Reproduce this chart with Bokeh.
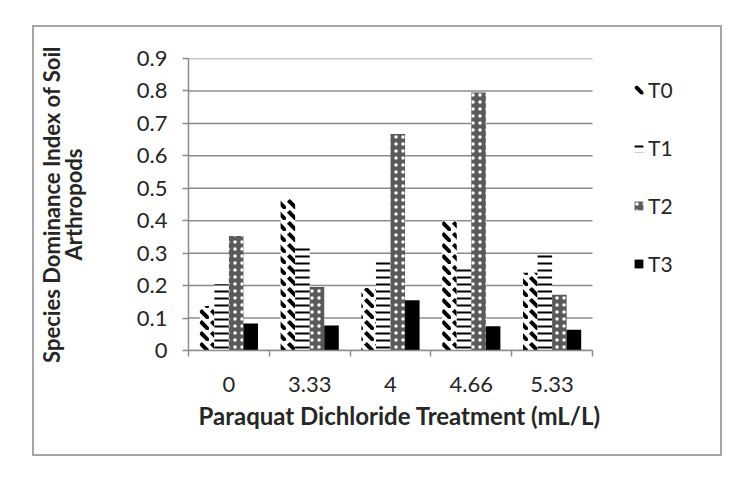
from bokeh.plotting import figure
from bokeh.models import Range1d, FixedTicker, Legend, LegendItem, ColumnDataSource, Title
from bokeh.transform import dodge
from bokeh.embed import file_html
from bokeh.resources import INLINE

# Paraquat dichloride doses (mL/L)
doses = ["0", "3.33", "4", "4.66", "5.33"]

# Species dominance index of soil arthropods per sampling time
t0 = [0.137, 0.467, 0.193, 0.400, 0.240]
t1 = [0.204, 0.320, 0.276, 0.252, 0.296]
t2 = [0.353, 0.196, 0.667, 0.795, 0.172]
t3 = [0.083, 0.077, 0.155, 0.075, 0.064]

series = ["T0", "T1", "T2", "T3"]
y_ticks = [0.0, 0.1, 0.2, 0.3, 0.4, 0.5, 0.6, 0.7, 0.8, 0.9]

FONT = "Lato"
TEXT = "#262626"
GRID = "#8c8c8c"

n = len(doses)
# each dose group occupies one unit on the x scale, centred at i + 0.5
centres = [i + 0.5 for i in range(n)]
source = ColumnDataSource(dict(centre=centres, T0=t0, T1=t1, T2=t2, T3=t3))

# the frame is widened to the right so the legend can sit inside it
bars_px, legend_px = 404, 130
x_end = n * (bars_px + legend_px) / bars_px

p = figure(width=737, height=478,
           x_range=Range1d(0, x_end), y_range=Range1d(0, 0.9),
           output_backend="svg", toolbar_location=None,
           min_border_left=188, min_border_right=737 - 188 - bars_px - legend_px,
           min_border_top=58, min_border_bottom=128)
p.outline_line_color = None
p.background_fill_color = "white"
p.border_fill_color = "white"

# grey frame around the whole chart area
p.stylesheets = [
    ":host { position: relative; }"
    ":host::after { content: ''; position: absolute; left: 32px; top: 25px;"
    " width: 686px; height: 427px; border: 2px solid #a6a6a6; pointer-events: none; }"
]

# horizontal gridlines, limited to the bar area
p.xgrid.visible = False
p.ygrid.visible = False
p.segment(x0=0, x1=n, y0=y_ticks, y1=y_ticks, line_color=GRID, line_width=1.5)

# bars, one dodge offset per series
bar_w = 0.18
offsets = [-0.27, -0.09, 0.09, 0.27]
styles = [
    dict(fill_color="white", hatch_pattern="left_diagonal_dash", hatch_color="black",
         hatch_weight=4, hatch_scale=11),
    dict(fill_color="white", hatch_pattern="horizontal_line", hatch_color="black",
         hatch_weight=2, hatch_scale=7),
    dict(fill_color="#5a5a5a", hatch_pattern="dot", hatch_color="white",
         hatch_weight=2, hatch_scale=7),
    dict(fill_color="black"),
]
renderers = []
for name, off, st in zip(series, offsets, styles):
    r = p.vbar(x=dodge("centre", off), top=name, width=bar_w,
               source=source, line_color=None, **st)
    renderers.append(r)

# y axis
p.yaxis.ticker = FixedTicker(ticks=y_ticks)
p.yaxis.major_label_overrides = {0: "0"}
p.yaxis.axis_line_color = GRID
p.yaxis.axis_line_width = 1.5
p.yaxis.major_tick_line_color = GRID
p.yaxis.major_tick_line_width = 1.5
p.yaxis.major_tick_out = 6
p.yaxis.major_tick_in = 0
p.yaxis.minor_tick_line_color = None
p.yaxis.major_label_standoff = 15
p.yaxis.major_label_text_font = FONT
p.yaxis.major_label_text_font_size = "22px"
p.yaxis.major_label_text_color = TEXT
p.yaxis.axis_label = "Species Dominance Index of Soil\nArthropods"
p.yaxis.axis_label_text_font = FONT
p.yaxis.axis_label_text_font_style = "bold"
p.yaxis.axis_label_text_font_size = "22px"
p.yaxis.axis_label_text_line_height = 0.82
p.yaxis.axis_label_text_color = TEXT
p.yaxis.axis_label_standoff = 47

# x axis: dose labels at group centres, tick marks between groups
xaxis = p.xaxis[0]
xaxis.bounds = (0, n)
xaxis.ticker = FixedTicker(ticks=centres, minor_ticks=list(range(n + 1)))
xaxis.major_label_overrides = {c: d for c, d in zip(centres, doses)}
xaxis.axis_line_color = GRID
xaxis.axis_line_width = 1.5
xaxis.major_tick_line_color = None
xaxis.major_tick_out = 0
xaxis.major_tick_in = 0
xaxis.minor_tick_line_color = GRID
xaxis.minor_tick_line_width = 1.5
xaxis.minor_tick_out = 6
xaxis.minor_tick_in = 0
xaxis.major_label_standoff = 20
xaxis.major_label_text_font = FONT
xaxis.major_label_text_font_size = "22px"
xaxis.major_label_text_color = TEXT

# x axis title, left-aligned under the bar area
p.add_layout(Title(text="Paraquat Dichloride Treatment (mL/L)", align="left", offset=10,
                   standoff=8, text_font=FONT, text_font_style="bold",
                   text_font_size="24px", text_color=TEXT), "below")

legend = Legend(
    items=[LegendItem(label=s, renderers=[r]) for s, r in zip(series, renderers)],
    location=(bars_px + 41, 74), orientation="vertical",
    spacing=33, label_height=24, glyph_height=11, glyph_width=11,
    padding=0, margin=0, label_standoff=4,
    border_line_color=None, background_fill_alpha=0,
    label_text_font=FONT, label_text_font_size="21px", label_text_color=TEXT,
)
p.add_layout(legend)

open("out.html", "w").write(file_html(p, INLINE))
